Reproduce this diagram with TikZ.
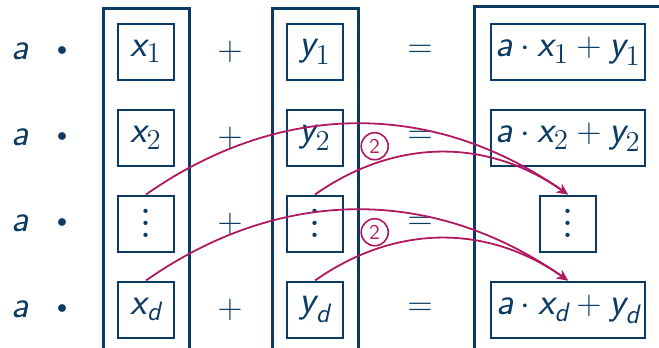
\documentclass[tikz,border=0pt]{standalone}
\usepackage{amsmath}
\usepackage{tikz}
\usetikzlibrary{arrows.meta,positioning,fit}
\definecolor{DeepNavy}{HTML}{0B3A63}
\definecolor{Berry}{HTML}{B0185F}
\newcommand{\sv}[1]{\textsf{\itshape #1}}
\newcommand{\tallvdots}{\vbox{\baselineskip=6pt\lineskiplimit=0pt\hbox{\fontsize{26}{26}\selectfont.}\hbox{\fontsize{26}{26}\selectfont.}\hbox{\fontsize{26}{26}\selectfont.}}}
\newcommand{\mulsign}{\fontsize{10}{10}\selectfont$\bullet$}

\begin{document}
\begin{tikzpicture}[
  x=1pt,y=1pt,
  every node/.style={text=DeepNavy},
  cell/.style={draw=DeepNavy,line width=1pt,minimum width=28pt,minimum height=28pt,inner sep=2pt},
  column/.style={draw=DeepNavy,line width=1.5pt,inner sep=7pt},
  op/.style={inner sep=0pt},
  flow/.style={draw=Berry,line width=0.9pt,-{Stealth[length=5.5pt,width=5pt]}},
  num/.style={draw=Berry,text=Berry,circle,line width=0.8pt,inner sep=0.5pt,minimum size=13.5pt,font=\sffamily\fontsize{10.5}{11}\selectfont},
  node distance=14pt,
  font=\fontsize{19}{22}\selectfont
]
\useasboundingbox (0,0) rectangle (329.5,-174);

% vector x
\node[cell] (x1) at (73,-25.75) {$\sv{x}_1$};
\node[cell,below=of x1] (x2) {$\sv{x}_2$};
\node[cell,below=of x2] (x3) {\tallvdots};
\node[cell,below=of x3] (x4) {$\sv{x}_{\sv{d}}$};

% vector y
\node[cell] (y1) at (157.5,-25.75) {$\sv{y}_1$};
\node[cell,below=of y1] (y2) {$\sv{y}_2$};
\node[cell,below=of y2] (y3) {\tallvdots};
\node[cell,below=of y3] (y4) {$\sv{y}_{\sv{d}}$};

% result
\node[cell,minimum width=77pt] (r1) at (284,-25.75) {$\sv{a}\cdot\sv{x}_1+\sv{y}_1$};
\node[cell,minimum width=77pt,below=of r1] (r2) {$\sv{a}\cdot\sv{x}_2+\sv{y}_2$};
\node[cell,below=of r2] (r3) {\tallvdots};
\node[cell,minimum width=77pt,below=of r3] (r4) {$\sv{a}\cdot\sv{x}_{\sv{d}}+\sv{y}_{\sv{d}}$};

\foreach \r in {1,...,4} {
  \node[op] (a\r) at ([xshift=-63pt]x\r.center) {$\sv{a}$};
  \node[op] (dot\r) at ([xshift=-42pt]x\r.center) {\mulsign};
  \node[op] (plus\r) at ([xshift=42pt]x\r.center) {$+$};
  \node[op] (eq\r) at ([xshift=52.5pt]y\r.center) {$=$};
}

\node[column,fit=(x1)(x4)] (xcol) {};
\node[column,fit=(y1)(y4)] (ycol) {};
\node[column,inner sep=8pt,fit=(r1)(r4)] (rcol) {};

% updates
\draw[flow] (x3.north) to[bend left=35] (r3.north);
\draw[flow] (y3.north) to[bend left=35] node[num,pos=0.24,above=1.5pt] (tag3) {2} (r3.north);
\draw[flow] (x4.north) to[bend left=35] (r4.north);
\draw[flow] (y4.north) to[bend left=35] node[num,pos=0.24,above=1.5pt] (tag4) {2} (r4.north);
\end{tikzpicture}
\end{document}
